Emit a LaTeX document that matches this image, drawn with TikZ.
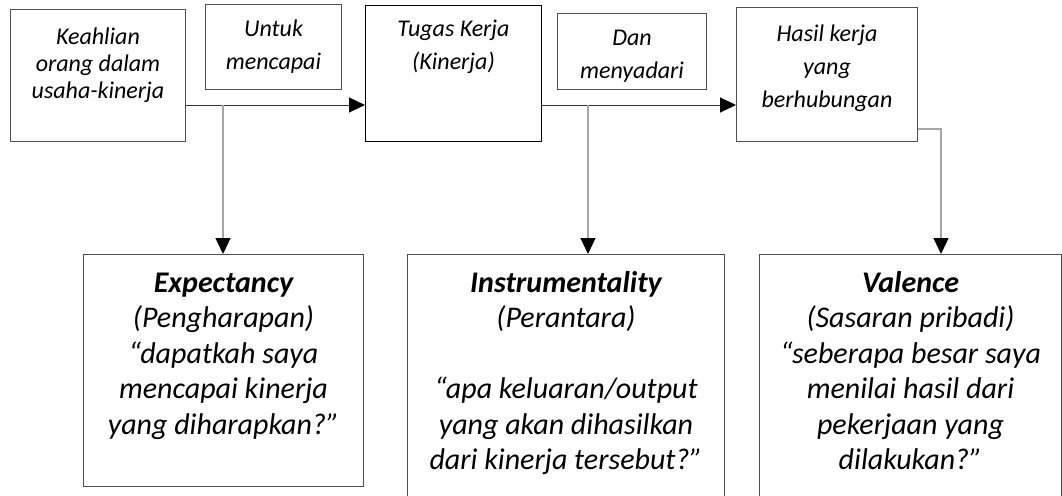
\documentclass[tikz,border=0pt]{standalone}
\usepackage{fontspec}
\setmainfont{Carlito}
\usetikzlibrary{arrows.meta}
\definecolor{rand}{HTML}{505050}
\definecolor{abu}{HTML}{A6A6A6}
\tikzset{kotak/.style={draw=rand, line width=1pt, inner sep=0pt, anchor=north west, font=\itshape\fontsize{24}{33}\selectfont}}
\tikzset{kotakbesar/.style={kotak, font=\itshape\fontsize{30}{35.5}\selectfont}}
\tikzset{panah/.style={draw=black!80, line width=1pt, -{Triangle[length=16pt, width=15pt, color=black]}}}
\tikzset{garis/.style={panah, draw=abu, line width=1.3pt}}
% box text: width, height, top pad, lines
\newcommand{\isi}[4]{\parbox[c][#2][t]{#1}{\centering\vspace*{#3}\strut#4\par}}

\begin{document}
\begin{tikzpicture}[x=1pt, y=-1pt]
    \useasboundingbox (0,0) rectangle (1062,495);
    % top row
    \node[kotak, font=\itshape\fontsize{24}{27}\selectfont](keahlian) at (10,9) {\isi{175pt}{132pt}{16.4pt}{Keahlian\\orang dalam\\usaha-kinerja}};
    \node[kotak](untuk) at (205,4) {\isi{136pt}{85pt}{9.2pt}{Untuk\\mencapai}};
    \node[kotak, draw=black](tugas) at (365,5) {\isi{176pt}{136pt}{8.2pt}{Tugas Kerja\\(Kinerja)}};
    \node[kotak](dan) at (557,13) {\isi{149pt}{76pt}{9.2pt}{Dan\\menyadari}};
    \node[kotak](hasil) at (736,7) {\isi{181pt}{134pt}{11.2pt}{Hasil kerja\\yang\\berhubungan}};
    % bottom row
    \node[kotakbesar](expect) at (83,254) {\isi{280pt}{232pt}{13pt}{\textbf{Expectancy}\\(Pengharapan)\\“dapatkah saya\\mencapai kinerja\\yang diharapkan?”}};
    \node[kotakbesar](instr) at (407,254) {\isi{317pt}{250pt}{13pt}{\textbf{Instrumentality}\\(Perantara)\\\mbox{}\\“apa keluaran/output\\yang akan dihasilkan\\dari kinerja tersebut?”}};
    \node[kotakbesar](valence) at (759,254) {\isi{302pt}{250pt}{13pt}{\textbf{Valence}\\(Sasaran pribadi)\\“seberapa besar saya\\menilai hasil dari\\pekerjaan yang\\dilakukan?”}};

    \coordinate (baris) at (0,105);
    \coordinate (c1) at (223,105);
    \coordinate (c2) at (588,105);
    \coordinate (c3) at (941,129);

    \path[panah] (keahlian.east |- baris) -- (tugas.west |- baris);
    \path[panah] (tugas.east |- baris) -- (hasil.west |- baris);
    \path[garis] (c1) -- (c1 |- expect.north);
    \path[garis] (c2) -- (c2 |- instr.north);
    \path[garis] (hasil.east |- c3) -- (c3) -- (c3 |- valence.north);
\end{tikzpicture}
\end{document}
